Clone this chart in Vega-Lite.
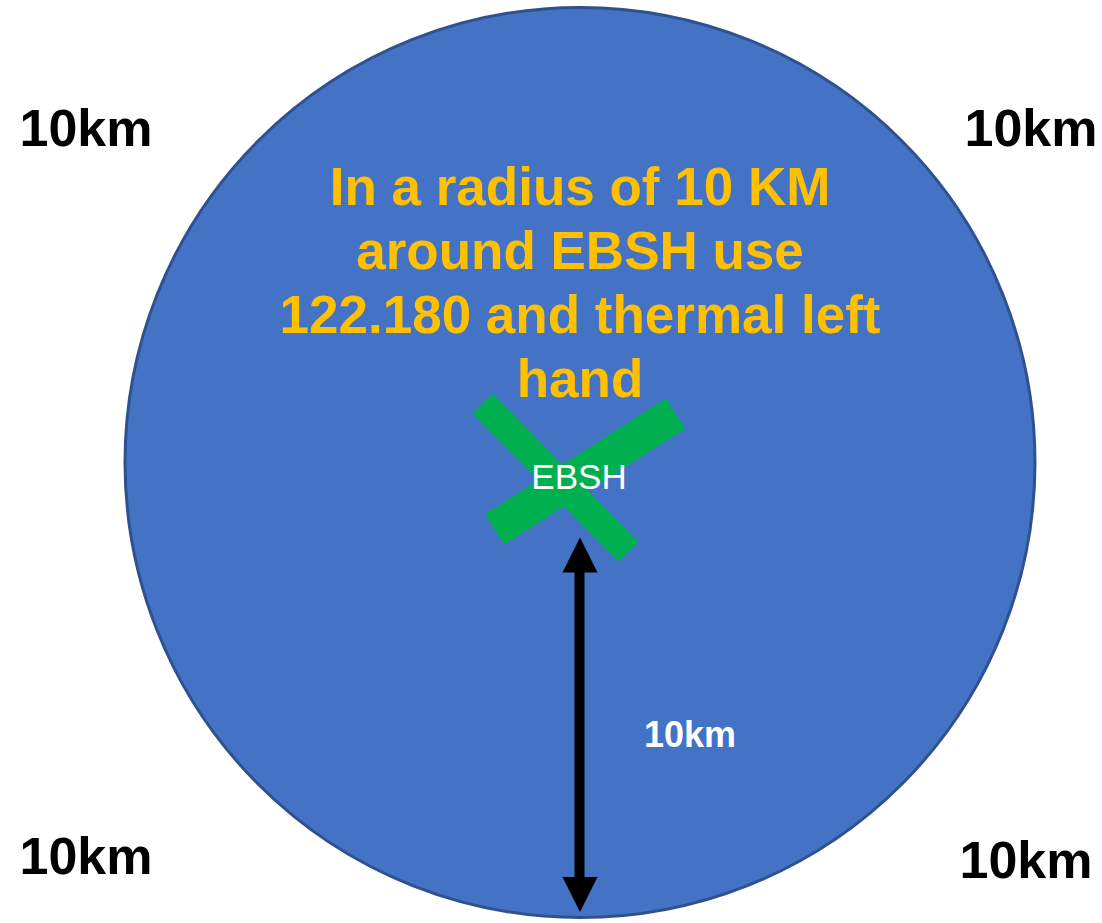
{
  "$schema": "https://vega.github.io/schema/vega-lite/v6.json",
  "width": 1102,
  "height": 923,
  "padding": 0,
  "autosize": {"type": "fit", "contains": "padding"},
  "background": "white",
  "config": {"view": {"stroke": null}},
  "datasets": {
    "circle": [{"x": 580, "y": 463}],
    "cross": [
      {"part": "a", "x": 482.5, "y": 404, "x2": 628.5, "y2": 552.5},
      {"part": "b", "x": 494.5, "y": 530, "x2": 675.5, "y2": 414}
    ],
    "shaft": [{"x": 579.5, "y": 568, "y2": 882}],
    "heads": [
      {"dir": "up", "x": 580, "y": 555.5},
      {"dir": "down", "x": 580, "y": 895.5}
    ],
    "title": [
      {"text": "In a radius of 10 KM", "x": 580, "y": 205},
      {"text": "around EBSH use", "x": 580, "y": 269},
      {"text": "122.180 and thermal left", "x": 580, "y": 333},
      {"text": "hand", "x": 580, "y": 397}
    ],
    "ebsh": [{"text": "EBSH", "x": 579, "y": 490}],
    "inner": [{"text": "10km", "x": 690, "y": 748}],
    "corners": [
      {"text": "10km", "x": 86, "y": 146},
      {"text": "10km", "x": 1031, "y": 146},
      {"text": "10km", "x": 86, "y": 875},
      {"text": "10km", "x": 1026, "y": 879}
    ]
  },
  "encoding": {
    "x": {"field": "x", "type": "quantitative", "scale": {"domain": [0, 1102], "nice": false, "zero": false}, "axis": null},
    "y": {"field": "y", "type": "quantitative", "scale": {"domain": [0, 923], "nice": false, "zero": false, "reverse": true}, "axis": null}
  },
  "layer": [
    {
      "data": {"name": "circle"},
      "mark": {"type": "point", "shape": "circle", "size": 828100, "filled": true, "fill": "#4472C4", "stroke": "#2F528F", "strokeWidth": 3, "opacity": 1, "fillOpacity": 1, "strokeOpacity": 1}
    },
    {
      "data": {"name": "cross"},
      "transform": [{"filter": "datum.part === 'a'"}],
      "mark": {"type": "rule", "color": "#00B050", "strokeWidth": 28, "strokeCap": "butt"},
      "encoding": {"x2": {"field": "x2"}, "y2": {"field": "y2"}}
    },
    {
      "data": {"name": "cross"},
      "transform": [{"filter": "datum.part === 'b'"}],
      "mark": {"type": "rule", "color": "#00B050", "strokeWidth": 36, "strokeCap": "butt"},
      "encoding": {"x2": {"field": "x2"}, "y2": {"field": "y2"}}
    },
    {
      "data": {"name": "ebsh"},
      "mark": {"type": "text", "font": "Liberation Sans", "fontSize": 35, "fontWeight": "normal", "color": "#FFFFFF", "align": "center", "baseline": "alphabetic"},
      "encoding": {"text": {"field": "text"}}
    },
    {
      "data": {"name": "title"},
      "mark": {"type": "text", "font": "Liberation Sans", "fontSize": 53, "fontWeight": "bold", "color": "#FFC000", "align": "center", "baseline": "alphabetic"},
      "encoding": {"text": {"field": "text"}}
    },
    {
      "data": {"name": "shaft"},
      "mark": {"type": "rule", "color": "#000000", "strokeWidth": 10, "strokeCap": "butt"},
      "encoding": {"y2": {"field": "y2"}}
    },
    {
      "data": {"name": "heads"},
      "mark": {"type": "point", "size": 1225, "filled": true, "color": "#000000", "opacity": 1, "strokeWidth": 0},
      "encoding": {
        "shape": {"field": "dir", "type": "nominal", "scale": {"domain": ["up", "down"], "range": ["M0,-1L1,1L-1,1Z", "M0,1L1,-1L-1,-1Z"]}, "legend": null}
      }
    },
    {
      "data": {"name": "inner"},
      "mark": {"type": "text", "font": "Liberation Sans", "fontSize": 36, "fontWeight": "bold", "color": "#FFFFFF", "align": "center", "baseline": "alphabetic"},
      "encoding": {"text": {"field": "text"}}
    },
    {
      "data": {"name": "corners"},
      "mark": {"type": "text", "font": "Liberation Sans", "fontSize": 52, "fontWeight": "bold", "color": "#000000", "align": "center", "baseline": "alphabetic"},
      "encoding": {"text": {"field": "text"}}
    }
  ]
}
